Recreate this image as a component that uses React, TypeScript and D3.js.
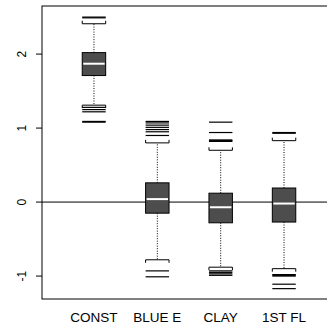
import { useRef, useEffect } from "react";
import * as d3 from "d3";

// box summaries
const categories = ["CONST", "BLUE E", "CLAY", "1ST FL"];
const lowerWhisker = [1.31, -0.78, -0.88, -0.9];
const lowerQuartile = [1.71, -0.15, -0.28, -0.27];
const medians = [1.87, 0.04, -0.07, -0.02];
const upperQuartile = [2.02, 0.26, 0.12, 0.19];
const upperWhisker = [2.41, 0.8, 0.7, 0.83];
const outliers = [
  [2.49, 2.5, 1.28, 1.25, 1.22, 1.09, 1.08],
  [1.09, 1.07, 1.04, 1.01, 0.98, 0.95, 0.9, -0.93, -1.01],
  [1.08, 0.94, 0.84, 0.83, 0.82, -0.93, -0.95, -0.97, -0.99],
  [0.94, 0.93, -0.98, -0.99, -1.0, -1.11, -1.17],
];
const yTicks = [-1, 0, 1, 2];

const width = 327;
const height = 327;
const margin = { top: 6, right: -9, bottom: 28, left: 42 };

const App = () => {
  const svgRef = useRef<SVGSVGElement>(null);

  useEffect(() => {
    document.body.style.margin = "0";
    const svg = d3.select(svgRef.current);
    svg.selectAll("*").remove();

    const x = d3
      .scaleLinear()
      .domain([0.18, 4.82])
      .range([margin.left, width - margin.right]);

    const y = d3
      .scaleLinear()
      .domain([-1.31, 2.65])
      .range([height - margin.bottom, margin.top]);

    const half = (x(1.37) - x(1)) / 2;
    const font = "Liberation Sans, Arial, sans-serif";

    // zero reference line
    svg
      .append("line")
      .attr("x1", margin.left)
      .attr("x2", width - margin.right)
      .attr("y1", y(0))
      .attr("y2", y(0))
      .attr("stroke", "#000")
      .attr("stroke-width", 1);

    const boxes = svg
      .selectAll("g.box")
      .data(categories)
      .enter()
      .append("g")
      .attr("class", "box");

    boxes.each(function (_d, i) {
      const g = d3.select(this);
      const cx = x(i + 1);

      // whiskers
      [
        [lowerWhisker[i], lowerQuartile[i], 1],
        [upperWhisker[i], upperQuartile[i], -1],
      ].forEach(([end, start, dir]) => {
        g.append("line")
          .attr("x1", cx)
          .attr("x2", cx)
          .attr("y1", y(start))
          .attr("y2", y(end))
          .attr("stroke", "#000")
          .attr("stroke-dasharray", "1,1.5");
        const cy = y(end);
        g.append("path")
          .attr(
            "d",
            `M${cx - half},${cy + dir * 3}V${cy}H${cx + half}V${cy + dir * 3}`
          )
          .attr("fill", "none")
          .attr("stroke", "#000");
      });

      g.append("rect")
        .attr("x", cx - half)
        .attr("width", half * 2)
        .attr("y", y(upperQuartile[i]))
        .attr("height", y(lowerQuartile[i]) - y(upperQuartile[i]))
        .attr("fill", "#4d4d4d")
        .attr("stroke", "#000");

      g.append("line")
        .attr("x1", cx - half + 1)
        .attr("x2", cx + half - 1)
        .attr("y1", y(medians[i]))
        .attr("y2", y(medians[i]))
        .attr("stroke", "#fff")
        .attr("stroke-width", 2);

      g.selectAll("line.out")
        .data(outliers[i])
        .enter()
        .append("line")
        .attr("class", "out")
        .attr("x1", cx - half)
        .attr("x2", cx + half)
        .attr("y1", (v) => y(v))
        .attr("y2", (v) => y(v))
        .attr("stroke", "#000")
        .attr("stroke-width", 1.2);
    });

    // frame
    svg
      .append("rect")
      .attr("x", margin.left)
      .attr("y", margin.top)
      .attr("width", width - margin.right - margin.left)
      .attr("height", height - margin.bottom - margin.top)
      .attr("fill", "none")
      .attr("stroke", "#000");

    // y axis ticks and rotated labels
    const yAxis = svg.append("g");
    yTicks.forEach((t) => {
      yAxis
        .append("line")
        .attr("x1", margin.left - 6)
        .attr("x2", margin.left)
        .attr("y1", y(t))
        .attr("y2", y(t))
        .attr("stroke", "#000");
      yAxis
        .append("text")
        .attr("transform", `translate(26,${y(t)}) rotate(-90)`)
        .attr("text-anchor", "middle")
        .attr("font-family", font)
        .attr("font-size", 12)
        .text(t);
    });

    // category labels
    svg
      .selectAll("text.cat")
      .data(categories)
      .enter()
      .append("text")
      .attr("class", "cat")
      .attr("x", (_d, i) => x(i + 1))
      .attr("y", 322)
      .attr("text-anchor", "middle")
      .attr("font-family", font)
      .attr("font-size", 13.5)
      .text((d) => d);
  }, []);

  return (
    <svg
      ref={svgRef}
      width={width}
      height={height}
      style={{ position: "absolute", left: 0, top: 0, background: "#fff" }}
    ></svg>
  );
};

export default App;
